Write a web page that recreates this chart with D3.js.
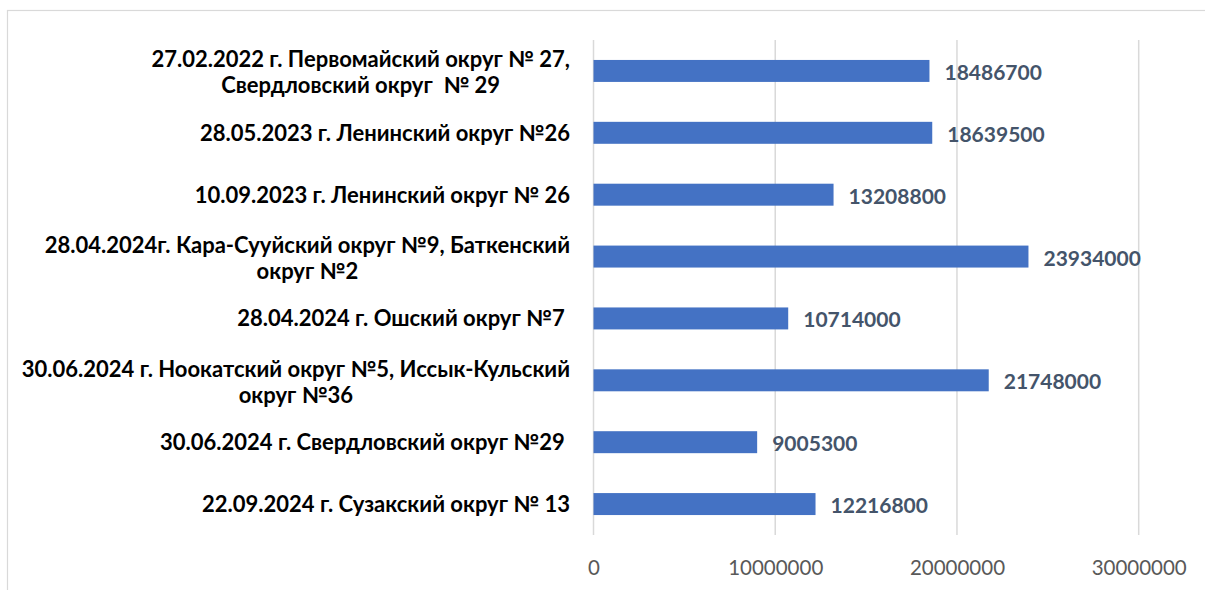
<!DOCTYPE html>
<html><head><meta charset="utf-8">
<script src="https://cdn.jsdelivr.net/npm/d3@7"></script>
<style>
html,body{margin:0;padding:0;background:#fff;}
svg{display:block;}
text{white-space:pre;}
</style></head>
<body><svg id="c" width="1205" height="590"></svg>
<script>
const categories = [
  "27.02.2022 г. Первомайский округ № 27,\nСвердловский округ  № 29",
  "28.05.2023 г. Ленинский округ №26",
  "10.09.2023 г. Ленинский округ № 26",
  "28.04.2024г. Кара-Сууйский округ №9, Баткенский\nокруг №2",
  "28.04.2024 г. Ошский округ №7 ",
  "30.06.2024 г. Ноокатский округ №5, Иссык-Кульский\nокруг №36",
  "30.06.2024 г. Свердловский округ №29 ",
  "22.09.2024 г. Сузакский округ № 13"
];
const values = [18486700, 18639500, 13208800, 23934000, 10714000, 21748000, 9005300, 12216800];
const tickValues = [0, 10000000, 20000000, 30000000];

const svg = d3.select("#c");
const font = "Lato, 'Open Sans', sans-serif";

svg.append("rect").attr("x",7.5).attr("y",10.5).attr("width",1300).attr("height",700)
  .attr("fill","#fff").attr("stroke","#D9D9D9").attr("stroke-width",1.2);

const x = d3.scaleLinear().domain([0,30000000]).range([593.5,1138.7]);
const y = d3.scaleBand().domain(d3.range(categories.length)).range([40,535]).paddingInner(0.645).paddingOuter(0.3225);

// gridlines
svg.append("g").selectAll("line").data(tickValues).join("line")
  .attr("x1",d=>x(d)).attr("x2",d=>x(d)).attr("y1",40).attr("y2",535)
  .attr("stroke","#D9D9D9").attr("stroke-width",1.5);

// x axis labels
const xAxis = d3.axisBottom(x).tickValues(tickValues).tickSize(0).tickPadding(0).tickFormat(d3.format("d"));
const gx = svg.append("g").attr("transform","translate(0,560)").call(xAxis);
gx.select(".domain").remove();
gx.selectAll("text").attr("font-family",font).attr("font-size",20.5).attr("fill","#595959");

// bars
svg.append("g").selectAll("rect").data(values).join("rect")
  .attr("x",x(0)).attr("y",(d,i)=>y(i)).attr("width",d=>x(d)-x(0)).attr("height",y.bandwidth())
  .attr("fill","#4472C4");

// value labels
svg.append("g").selectAll("text").data(values).join("text")
  .attr("x",d=>x(d)+15).attr("y",(d,i)=>y(i)+y.bandwidth()/2+9)
  .attr("font-family",font).attr("font-weight","bold").attr("font-size",21).attr("fill","#44546A")
  .text(d=>d);

// category labels
const lineH = 26;
const cg = svg.append("g");
categories.forEach((c,i)=>{
  const lines = c.split("\n");
  const cy = y(i)+y.bandwidth()/2 + (lines.length>1 ? 1.5 : 0);
  const t = cg.append("text").attr("font-family",font).attr("font-weight","bold").attr("font-size",22).attr("fill","#000");
  const ts = lines.map((l,k)=>t.append("tspan").attr("y",cy+7.9+(k-(lines.length-1)/2)*lineH).text(l));
  const widths = ts.map(s=>s.node().getComputedTextLength());
  const maxW = d3.max(widths);
  const right = 570;
  ts.forEach((s,k)=>s.attr("x",right-maxW/2).attr("text-anchor","middle"));
});
</script></body></html>
